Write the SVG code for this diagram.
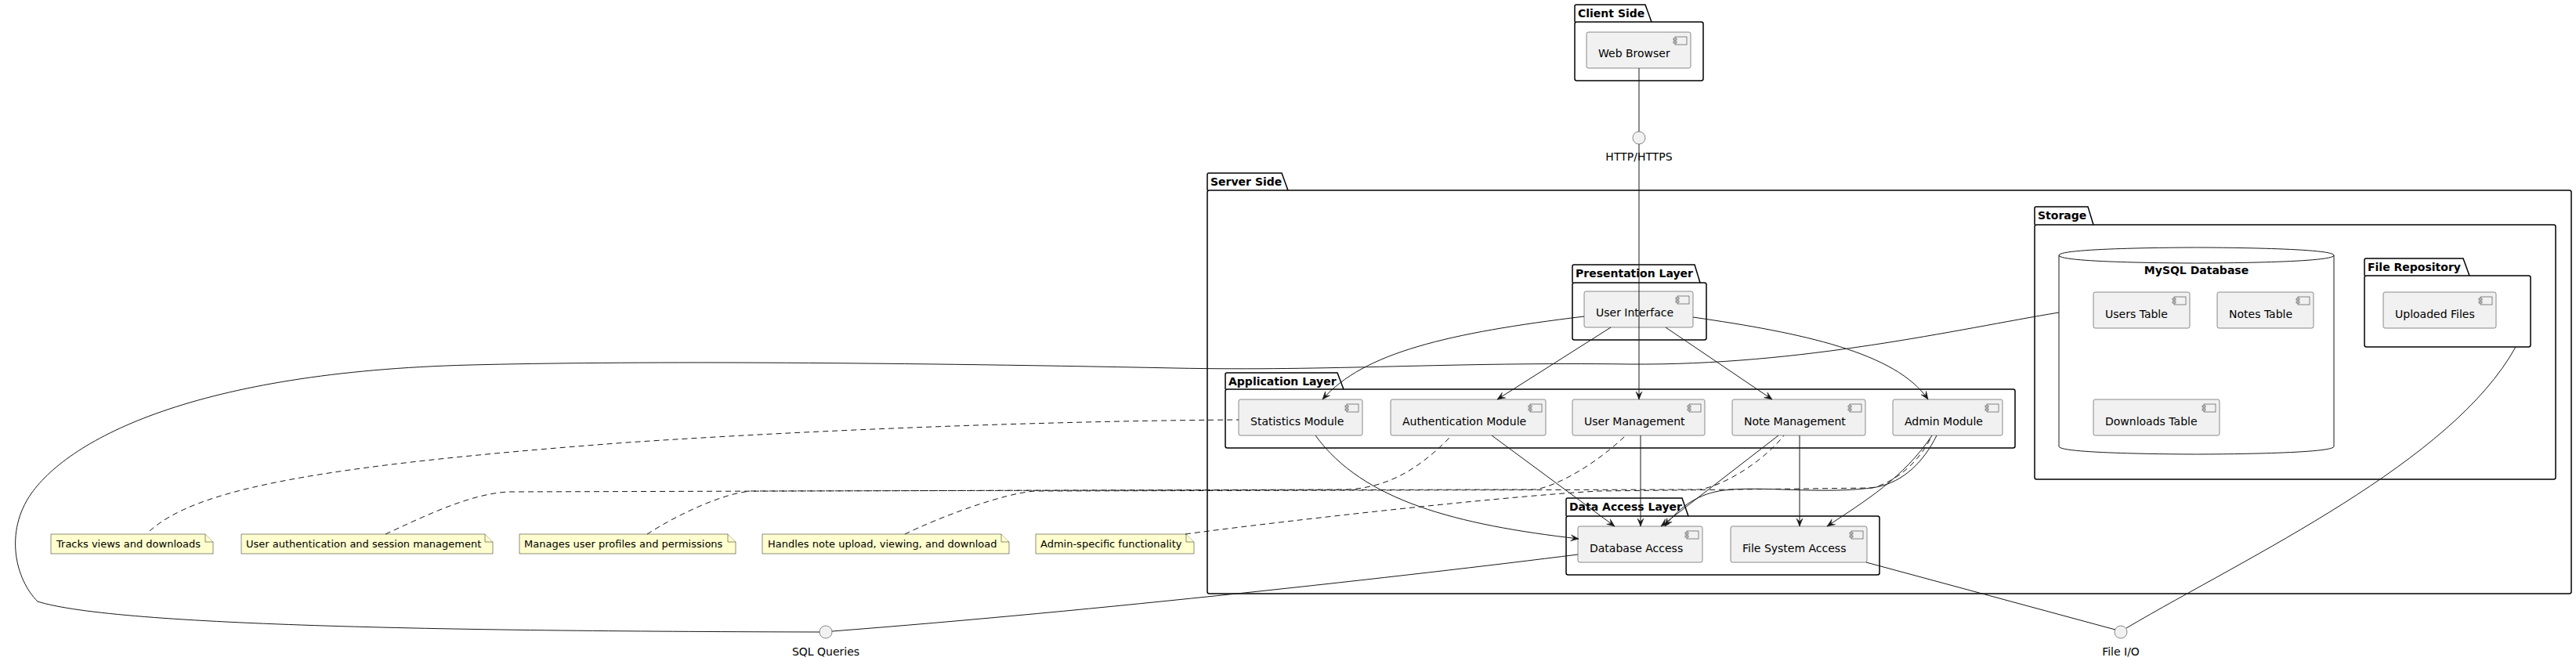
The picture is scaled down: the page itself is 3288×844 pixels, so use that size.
<svg xmlns="http://www.w3.org/2000/svg" width="3288" height="844" viewBox="0 0 3288 844">
<style>
.pkg{fill:none;stroke:#000;stroke-width:1.5}
.ptitle{font-family:"DejaVu Sans",sans-serif;font-size:14px;font-weight:bold;fill:#000}
.comp{fill:#F1F1F1;stroke:#181818;stroke-width:0.5}
.ico{fill:#F1F1F1;stroke:#181818;stroke-width:0.5}
.ctext{font-family:"DejaVu Sans",sans-serif;font-size:14px;fill:#000}
.note{fill:#FEFECE;stroke:#181818;stroke-width:0.5}
.ntext{font-family:"DejaVu Sans",sans-serif;font-size:13px;fill:#000}
.iface{fill:#F1F1F1;stroke:#181818;stroke-width:0.5}
.ln{fill:none;stroke:#181818;stroke-width:1}
.arr{marker-end:url(#ah)}
.dash{fill:none;stroke:#181818;stroke-width:1;stroke-dasharray:7,5}
</style>
<defs>
<marker id="ah" markerUnits="userSpaceOnUse" viewBox="-11 -5 12 10" refX="0" refY="0" markerWidth="12" markerHeight="10" orient="auto">
<path d="M0,0 L-10,-4 L-6,0 L-10,4 Z" fill="#181818" stroke="#181818" stroke-width="0.5"/>
</marker>
</defs>
<rect width="3288" height="844" fill="#FFFFFF"/>

<!-- Packages -->
<g id="pkg-client">
<path class="pkg" d="M2010,28 V8 Q2010,6 2012,6 H2100 L2108,28"/>
<rect class="pkg" x="2010" y="28" width="164" height="75" rx="2.5"/>
<text class="ptitle" x="2014" y="22">Client Side</text>
</g>
<g id="pkg-server">
<path class="pkg" d="M1541,243 V223 Q1541,221 1543,221 H1636 L1644,243"/>
<rect class="pkg" x="1541" y="243" width="1741" height="515" rx="2.5"/>
<text class="ptitle" x="1545" y="237">Server Side</text>
</g>
<g id="pkg-presentation">
<path class="pkg" d="M2007,361 V340 Q2007,338 2009,338 H2163 L2170,361"/>
<rect class="pkg" x="2007" y="361" width="171" height="73" rx="2.5"/>
<text class="ptitle" x="2011" y="354">Presentation Layer</text>
</g>
<g id="pkg-application">
<path class="pkg" d="M1564,497 V478 Q1564,476 1566,476 H1707 L1715,497"/>
<rect class="pkg" x="1564" y="497" width="1008" height="75" rx="2.5"/>
<text class="ptitle" x="1568" y="492">Application Layer</text>
</g>
<g id="pkg-dataaccess">
<path class="pkg" d="M1999,659 V638 Q1999,636 2001,636 H2147 L2155,659"/>
<rect class="pkg" x="1999" y="659" width="400" height="75" rx="2.5"/>
<text class="ptitle" x="2003" y="652">Data Access Layer</text>
</g>
<g id="pkg-storage">
<path class="pkg" d="M2597,287 V266 Q2597,264 2599,264 H2665 L2672,287"/>
<rect class="pkg" x="2597" y="287" width="665" height="325" rx="2.5"/>
<text class="ptitle" x="2601" y="280">Storage</text>
</g>
<g id="pkg-filerepo">
<path class="pkg" d="M3018,352 V332 Q3018,330 3020,330 H3144 L3152,352"/>
<rect class="pkg" x="3018" y="352" width="212" height="91" rx="2.5"/>
<text class="ptitle" x="3022" y="346">File Repository</text>
</g>
<g id="db-mysql">
<path d="M2628,326 C2628,316 2803.5,316 2803.5,316 C2803.5,316 2979,316 2979,326 L2979,570 C2979,580 2803.5,580 2803.5,580 C2803.5,580 2628,580 2628,570 Z" fill="#FFFFFF" stroke="#181818" stroke-width="1"/>
<path d="M2628,326 C2628,336 2803.5,336 2803.5,336 C2803.5,336 2979,336 2979,326" fill="none" stroke="#181818" stroke-width="1"/>
<text class="ptitle" x="2803.5" y="350" text-anchor="middle">MySQL Database</text>
</g>

<!-- Components -->
<g id="web-browser">
<rect class="comp" x="2025" y="41" width="133" height="46" rx="2.5"/>
<rect class="ico" x="2138" y="47" width="15" height="10"/><rect class="ico" x="2136" y="49" width="4" height="2"/><rect class="ico" x="2136" y="53" width="4" height="2"/>
<text class="ctext" x="2040" y="73">Web Browser</text>
</g>
<g id="user-interface">
<rect class="comp" x="2022" y="372" width="139" height="46" rx="2.5"/>
<rect class="ico" x="2141" y="378" width="15" height="10"/><rect class="ico" x="2139" y="380" width="4" height="2"/><rect class="ico" x="2139" y="384" width="4" height="2"/>
<text class="ctext" x="2037" y="404">User Interface</text>
</g>
<g id="statistics-module">
<rect class="comp" x="1581" y="510" width="158" height="46" rx="2.5"/>
<rect class="ico" x="1719" y="516" width="15" height="10"/><rect class="ico" x="1717" y="518" width="4" height="2"/><rect class="ico" x="1717" y="522" width="4" height="2"/>
<text class="ctext" x="1596" y="543">Statistics Module</text>
</g>
<g id="auth-module">
<rect class="comp" x="1775" y="510" width="198" height="46" rx="2.5"/>
<rect class="ico" x="1953" y="516" width="15" height="10"/><rect class="ico" x="1951" y="518" width="4" height="2"/><rect class="ico" x="1951" y="522" width="4" height="2"/>
<text class="ctext" x="1790" y="543">Authentication Module</text>
</g>
<g id="user-management">
<rect class="comp" x="2007" y="510" width="169" height="46" rx="2.5"/>
<rect class="ico" x="2156" y="516" width="15" height="10"/><rect class="ico" x="2154" y="518" width="4" height="2"/><rect class="ico" x="2154" y="522" width="4" height="2"/>
<text class="ctext" x="2022" y="543">User Management</text>
</g>
<g id="note-management">
<rect class="comp" x="2211" y="510" width="170" height="46" rx="2.5"/>
<rect class="ico" x="2361" y="516" width="15" height="10"/><rect class="ico" x="2359" y="518" width="4" height="2"/><rect class="ico" x="2359" y="522" width="4" height="2"/>
<text class="ctext" x="2226" y="543">Note Management</text>
</g>
<g id="admin-module">
<rect class="comp" x="2416" y="510" width="140" height="46" rx="2.5"/>
<rect class="ico" x="2536" y="516" width="15" height="10"/><rect class="ico" x="2534" y="518" width="4" height="2"/><rect class="ico" x="2534" y="522" width="4" height="2"/>
<text class="ctext" x="2431" y="543">Admin Module</text>
</g>
<g id="database-access">
<rect class="comp" x="2014" y="672" width="159" height="46" rx="2.5"/>
<rect class="ico" x="2153" y="678" width="15" height="10"/><rect class="ico" x="2151" y="680" width="4" height="2"/><rect class="ico" x="2151" y="684" width="4" height="2"/>
<text class="ctext" x="2029" y="705">Database Access</text>
</g>
<g id="file-system-access">
<rect class="comp" x="2209" y="672" width="174" height="46" rx="2.5"/>
<rect class="ico" x="2363" y="678" width="15" height="10"/><rect class="ico" x="2361" y="680" width="4" height="2"/><rect class="ico" x="2361" y="684" width="4" height="2"/>
<text class="ctext" x="2224" y="705">File System Access</text>
</g>
<g id="users-table">
<rect class="comp" x="2672" y="373" width="123" height="46" rx="2.5"/>
<rect class="ico" x="2775" y="379" width="15" height="10"/><rect class="ico" x="2773" y="381" width="4" height="2"/><rect class="ico" x="2773" y="385" width="4" height="2"/>
<text class="ctext" x="2687" y="406">Users Table</text>
</g>
<g id="notes-table">
<rect class="comp" x="2830" y="373" width="123" height="46" rx="2.5"/>
<rect class="ico" x="2933" y="379" width="15" height="10"/><rect class="ico" x="2931" y="381" width="4" height="2"/><rect class="ico" x="2931" y="385" width="4" height="2"/>
<text class="ctext" x="2845" y="406">Notes Table</text>
</g>
<g id="downloads-table">
<rect class="comp" x="2672" y="510" width="161" height="46" rx="2.5"/>
<rect class="ico" x="2813" y="516" width="15" height="10"/><rect class="ico" x="2811" y="518" width="4" height="2"/><rect class="ico" x="2811" y="522" width="4" height="2"/>
<text class="ctext" x="2687" y="543">Downloads Table</text>
</g>
<g id="uploaded-files">
<rect class="comp" x="3042" y="373" width="144" height="46" rx="2.5"/>
<rect class="ico" x="3166" y="379" width="15" height="10"/><rect class="ico" x="3164" y="381" width="4" height="2"/><rect class="ico" x="3164" y="385" width="4" height="2"/>
<text class="ctext" x="3057" y="406">Uploaded Files</text>
</g>

<!-- Interfaces -->
<g id="if-http">
<circle class="iface" cx="2092" cy="176" r="8"/>
<text class="ctext" x="2092" y="205" text-anchor="middle">HTTP/HTTPS</text>
</g>
<g id="if-sql">
<circle class="iface" cx="1054" cy="807" r="8"/>
<text class="ctext" x="1054" y="837" text-anchor="middle">SQL Queries</text>
</g>
<g id="if-fileio">
<circle class="iface" cx="2707" cy="807" r="8"/>
<text class="ctext" x="2707" y="837" text-anchor="middle">File I/O</text>
</g>

<!-- Notes -->
<g id="note-stats">
<path class="note" d="M65,682 H262 L272,692 V707 H65 Z"/><path class="note" d="M262,682 V692 H272"/>
<text class="ntext" x="72" y="699">Tracks views and downloads</text>
</g>
<g id="note-auth">
<path class="note" d="M308,682 H619 L629,692 V707 H308 Z"/><path class="note" d="M619,682 V692 H629"/>
<text class="ntext" x="314" y="699">User authentication and session management</text>
</g>
<g id="note-users">
<path class="note" d="M663,682 H929 L939,692 V707 H663 Z"/><path class="note" d="M929,682 V692 H939"/>
<text class="ntext" x="669" y="699">Manages user profiles and permissions</text>
</g>
<g id="note-notes">
<path class="note" d="M973,682 H1278 L1288,692 V707 H973 Z"/><path class="note" d="M1278,682 V692 H1288"/>
<text class="ntext" x="980" y="699">Handles note upload, viewing, and download</text>
</g>
<g id="note-admin">
<path class="note" d="M1322,682 H1514 L1524,692 V707 H1322 Z"/><path class="note" d="M1514,682 V692 H1524"/>
<text class="ntext" x="1328" y="699">Admin-specific functionality</text>
</g>

<!-- Connectors -->
<g id="connectors">
<path class="ln" d="M2092,87 L2092,168"/>
<path class="ln" d="M2092,184 L2092,418"/>
<path class="ln arr" d="M2022,404 C1850,425 1740,450 1688,510"/>
<path class="ln arr" d="M2056,418 L1911,510"/>
<path class="ln arr" d="M2092,418 L2092,510"/>
<path class="ln arr" d="M2126,418 L2262,510"/>
<path class="ln arr" d="M2161,405 C2300,425 2420,450 2461,510"/>
<path class="ln arr" d="M1679,556 C1740,640 1860,670 2015,688"/>
<path class="ln arr" d="M1904,556 L2061,672"/>
<path class="ln arr" d="M2094,556 L2094,672"/>
<path class="ln arr" d="M2270,556 L2120,672"/>
<path class="ln arr" d="M2297,556 L2297,672"/>
<path class="ln arr" d="M2472,556 C2455,590 2430,615 2395,622 C2330,632 2250,620 2200,626 C2170,630 2145,645 2125,672"/>
<path class="ln arr" d="M2466,556 C2430,610 2380,640 2332,672"/>
<path class="ln" d="M2014,708 C1800,735 1400,780 1062,806"/>
<path class="ln" d="M1046,807 C600,806 150,800 48,768 C20,740 5,680 40,630 C90,560 250,475 600,466 C800,461 1100,462 1500,470 C1700,474 1850,462 2080,465 C2300,467 2500,420 2628,399"/>
<path class="ln" d="M2382,718 L2700,804"/>
<path class="ln" d="M2714,802 C2870,710 3130,590 3211,443"/>
<path class="dash" d="M191,678 C250,625 400,595 800,565 C1100,545 1400,537 1581,536"/>
<path class="dash" d="M492,682 C540,660 600,630 650,628 L1720,625 C1780,622 1820,590 1853,556"/>
<path class="dash" d="M826,682 C860,660 920,630 959,627 L1960,625 C1990,620 2040,590 2075,556"/>
<path class="dash" d="M1155,682 C1200,660 1280,630 1321,627 L2170,625 C2200,620 2250,590 2277,556"/>
<path class="dash" d="M1513,682 C1600,670 1900,635 2040,627 L2390,623 C2420,615 2450,590 2466,556"/>
</g>
</svg>
